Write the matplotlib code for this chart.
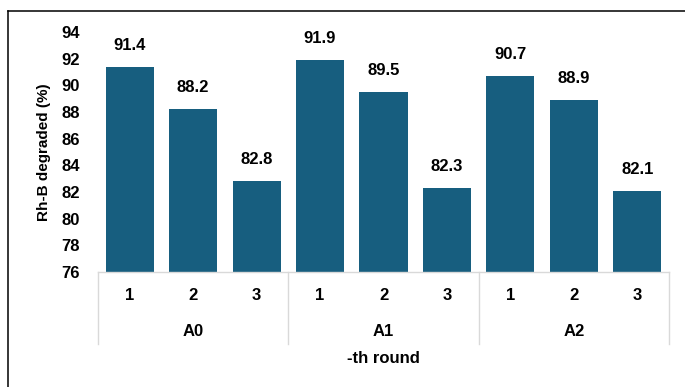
import matplotlib
matplotlib.use("Agg")
import matplotlib.pyplot as plt
from matplotlib.lines import Line2D

groups = ["A0", "A1", "A2"]
rounds = ["1", "2", "3"]
values = [91.4, 88.2, 82.8, 91.9, 89.5, 82.3, 90.7, 88.9, 82.1]
y_ticks = [76, 78, 80, 82, 84, 86, 88, 90, 92, 94]

bar_color = "#175e7f"
grid_color = "#d9d9d9"
fs = 12
plt.rcParams["font.family"] = ["Liberation Sans", "DejaVu Sans"]
plt.rcParams["font.weight"] = "bold"

fig = plt.figure(figsize=(6.85, 3.87), dpi=100)
ax = fig.add_axes([98 / 685, 1 - 272 / 387, (669 - 98) / 685, (272 - 32) / 387])

n = len(values)
xs = list(range(n))
ax.bar(xs, values, width=0.76, color=bar_color, zorder=2)

ax.set_ylim(y_ticks[0], y_ticks[-1])
ax.set_xlim(-0.5, n - 0.5)
ax.set_yticks(y_ticks)
ax.set_yticklabels([str(t) for t in y_ticks], fontsize=fs, fontweight="bold")
ax.tick_params(axis="y", length=0, pad=13)
ax.set_xticks([])

for s in ["left", "right", "top"]:
    ax.spines[s].set_visible(False)
ax.spines["bottom"].set_color(grid_color)
ax.spines["bottom"].set_linewidth(1.0)

for x, v in zip(xs, values):
    ax.annotate(f"{v:.1f}", (x, v), xytext=(0, 10), textcoords="offset points",
                ha="center", va="bottom", fontsize=fs, fontweight="bold")

# two-level category axis
trans = ax.get_xaxis_transform()
for x in xs:
    ax.text(x, -0.1, rounds[x % 3], transform=trans, ha="center", va="center",
            fontsize=fs, fontweight="bold")
for gi, g in enumerate(groups):
    ax.text(gi * 3 + 1, -0.25, g, transform=trans, ha="center", va="center",
            fontsize=fs, fontweight="bold")
for sx in [-0.5, 2.5, 5.5, 8.5]:
    ax.add_line(Line2D([sx, sx], [0, -0.30], transform=trans, color=grid_color,
                       linewidth=1.0, clip_on=False))

ax.text(0.5, -0.36, "-th round", transform=ax.transAxes, ha="center",
        va="center", fontsize=fs, fontweight="bold")
fig.text(44 / 685, 1 - 152 / 387, "Rh-B degraded (%)", rotation=90,
         ha="center", va="center", fontsize=11, fontweight="bold")

# chart frame
fl, ft = 8 / 685, 1 - 11 / 387
fig.add_artist(Line2D([fl, fl], [ft, -0.1], transform=fig.transFigure,
                      color="black", linewidth=1.1))
fig.add_artist(Line2D([fl, 1.1], [ft, ft], transform=fig.transFigure,
                      color="black", linewidth=1.1))

fig.savefig("out.png", dpi=100)
